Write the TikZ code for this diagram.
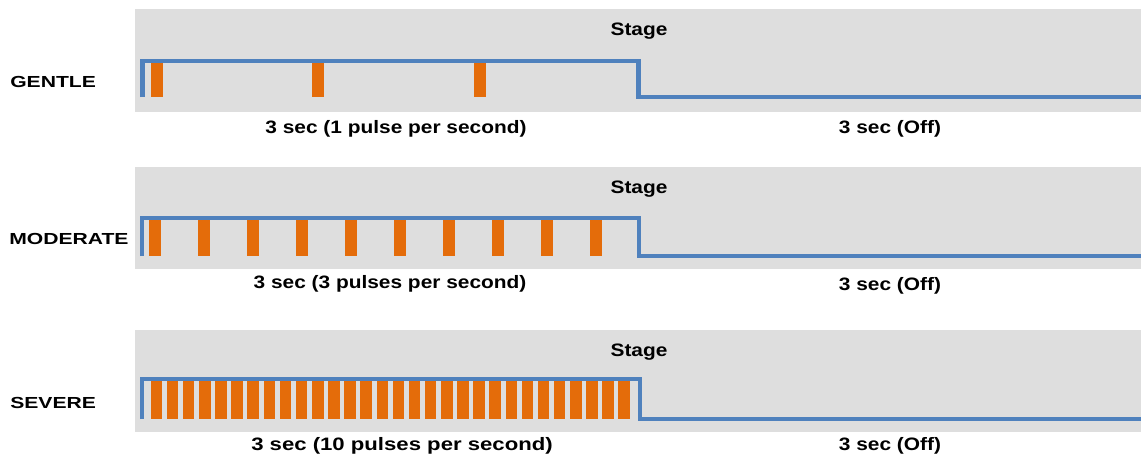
\documentclass[tikz,border=0pt]{standalone}
\usepackage{fontspec}
\setmainfont{Liberation Sans}
% wide bold faces used for the captions and the row labels
\newfontfamily\bodyfont{Liberation Sans Bold}[FakeStretch=1.16]
\newfontfamily\widebodyfont{Liberation Sans Bold}[FakeStretch=1.23]
\newfontfamily\labelfont{Liberation Sans Bold}[FakeStretch=1.32]

\definecolor{panelgray}{HTML}{DEDEDE}
\definecolor{sigblue}{HTML}{4F81BD}
\definecolor{pulseorange}{HTML}{E46C0A}

\tikzset{
  panel/.style={fill=panelgray, draw=none},
  signal/.style={draw=sigblue, line width=3.2pt, line join=miter},
  pulse/.style={fill=pulseorange, draw=none},
  rowlabel/.style={font=\fontsize{12pt}{14pt}\labelfont, anchor=base west, inner sep=0pt},
  caption/.style={font=\fontsize{13.5pt}{16pt}\bodyfont, anchor=base, inner sep=0pt},
  widecaption/.style={caption, font=\fontsize{13.5pt}{16pt}\widebodyfont},
}

\begin{document}
\begin{tikzpicture}[x=0.75pt, y=-0.75pt]
\useasboundingbox (0,0) rectangle (1141,458);

% ---------- GENTLE ----------
\fill[panel] (135,9) rectangle (1141,112);
\foreach \x in {151,312,474}
  \fill[pulse] (\x,63) rectangle ++(11.5,34);
\draw[signal] (142.5,97) |- (638.5,61) |- (1145,97);
\node[caption] (stageA) at (639,35.5) {Stage};
\node[rowlabel] (gentle) at (10,87.3) {GENTLE};
\node[caption] (onA) at (396,133.5) {3 sec (1 pulse per second)};
\node[caption] (offA) at (890,133) {3 sec (Off)};

% ---------- MODERATE ----------
\fill[panel] (135,167) rectangle (1141,269);
\foreach \i in {0,...,9}
  \fill[pulse] ({149.3+49*\i},220) rectangle ++(12,36);
\draw[signal] (142,256) |- (639,218.3) |- (1145,256);
\node[caption] (stageB) at (639,193.5) {Stage};
\node[rowlabel] (moderate) at (9,244) {MODERATE};
\node[caption] (onB) at (390,288) {3 sec (3 pulses per second)};
\node[caption] (offB) at (890,290.5) {3 sec (Off)};

% ---------- SEVERE ----------
\fill[panel] (135,330) rectangle (1141,432);
\foreach \i in {0,...,29}
  \fill[pulse] ({150.7+16.13*\i},381) rectangle ++(11.5,38);
\draw[signal] (142.3,419) |- (640,379.3) |- (1145,419);
\node[caption] (stageC) at (639,356.5) {Stage};
\node[rowlabel] (severe) at (10,408.3) {SEVERE};
\node[widecaption] (onC) at (402,450) {3 sec (10 pulses per second)};
\node[caption] (offC) at (890,450) {3 sec (Off)};
\end{tikzpicture}
\end{document}
